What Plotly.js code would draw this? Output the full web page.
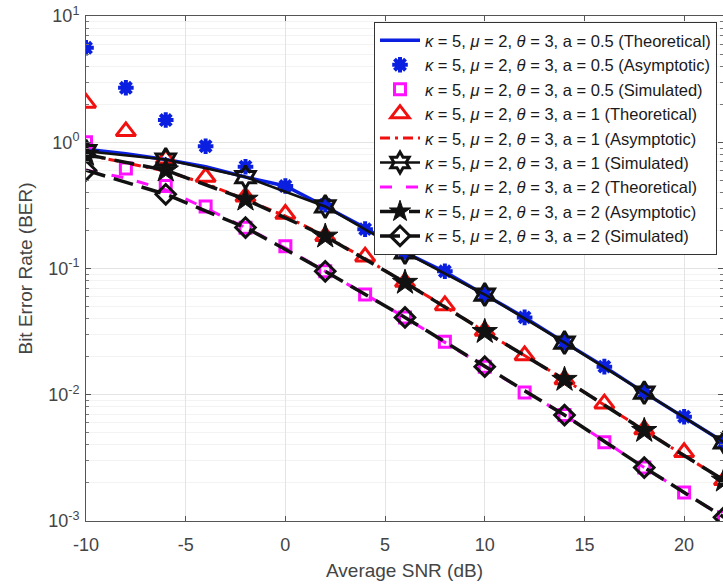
<!DOCTYPE html>
<html>
<head>
<meta charset="utf-8">
<script src="https://cdn.plot.ly/plotly-3.0.1.min.js"></script>
<style>html,body{margin:0;padding:0;background:#fff;}#chart{width:723px;height:586px;}</style>
</head>
<body>
<div id="chart"></div>
<script>
// SNR grids (dB)
const snrFine = [-10,-8,-6,-4,-2,0,2,4,6,8,10,12,14,16,18,20,22];
const snrCoarse = [-10,-6,-2,2,6,10,14,18,22];

// axis ticks
const xTickVals = [-10,-5,0,5,10,15,20];
const xTickText = ['-10','-5','0','5','10','15','20'];
const yTickVals = [0.001,0.01,0.1,1,10];
const yTickText = ['10<sup>-3</sup>','10<sup>-2</sup>','10<sup>-1</sup>','10<sup>0</sup>','10<sup>1</sup>'];

// a = 0.5
const a05Theoretical = [0.88,0.81,0.73,0.64,0.53,0.45,0.31,0.21,0.134,0.094,0.062,0.041,0.026,0.0167,0.0104,0.0066,0.0042];
const a05Asymptotic  = [5.6,2.7,1.5,0.93,0.64,0.45,0.32,0.205,0.135,0.095,0.062,0.041,0.026,0.0167,0.0105,0.0067,0.0042];
const a05Simulated   = [1.0,0.62,0.45,0.31,0.21,0.15,0.095,0.0623,0.041,0.0263,0.0167,0.0104,0.0069,0.0042,0.00265,0.00168,0.00107];
// a = 1
const a1Theoretical  = [2.05,1.22,0.74,0.53,0.37,0.27,0.18,0.124,0.078,0.051,0.032,0.0205,0.0132,0.0085,0.0053,0.0035,0.0021];
const a1Asymptotic   = [0.80,0.69,0.59,0.47,0.353,0.26,0.18,0.12,0.0775,0.05,0.0316,0.0205,0.0132,0.0083,0.0052,0.0033,0.0021];
const a1Simulated    = [0.85,0.73,0.53,0.31,0.134,0.0622,0.0259,0.0104,0.0042];
// a = 2
const a2Theoretical  = [0.60,0.52,0.42,0.30,0.211,0.145,0.095,0.0625,0.041,0.026,0.0167,0.0107,0.0069,0.0043,0.00265,0.00168,0.00107];
const a2Asymptotic   = [0.80,0.60,0.353,0.18,0.0775,0.0316,0.0132,0.0052,0.0021];
const a2Simulated    = [0.60,0.387,0.211,0.095,0.041,0.0167,0.0069,0.00265,0.00107];

const seriesNames = [
  'a = 0.5 (Theoretical)','a = 0.5 (Asymptotic)','a = 0.5 (Simulated)',
  'a = 1 (Theoretical)','a = 1 (Asymptotic)','a = 1 (Simulated)',
  'a = 2 (Theoretical)','a = 2 (Asymptotic)','a = 2 (Simulated)'
];
const prefix = '<i>κ</i> = 5, <i>μ</i> = 2, <i>θ</i> = 3, ';
const nm = i => prefix + seriesNames[i];

const traces = [
  {x:snrFine, y:a05Theoretical, name:nm(0), mode:'lines',
   line:{color:'#0a1fe0', width:3.5}},
  {x:snrFine, y:a05Asymptotic, name:nm(1), mode:'markers',
   marker:{symbol:'asterisk-open', size:13, color:'#0a1fe0', line:{color:'#0a1fe0', width:4}}},
  {x:snrFine, y:a05Simulated, name:nm(2), mode:'markers',
   marker:{symbol:'square-open', size:11, color:'#ff10ff', line:{color:'#ff10ff', width:3}}},
  {x:snrFine, y:a1Theoretical, name:nm(3), mode:'markers',
   marker:{symbol:'triangle-up-open', size:17, color:'#f01010', line:{color:'#f01010', width:3}}},
  {x:snrFine, y:a1Asymptotic, name:nm(4), mode:'lines',
   line:{color:'#f01010', width:3, dash:'10px,5px,3px,5px'}},
  {x:snrCoarse, y:a1Simulated, name:nm(5), mode:'lines+markers',
   line:{color:'#111', width:2.5},
   marker:{symbol:'hexagram-open', size:17, color:'#111', line:{color:'#111', width:3}}},
  {x:snrFine, y:a2Theoretical, name:nm(6), mode:'lines',
   line:{color:'#ff10ff', width:3, dash:'12px,14px'}},
  {x:snrCoarse, y:a2Asymptotic, name:nm(7), mode:'lines+markers',
   line:{color:'#111', width:3.5, dash:'20px,9px'},
   marker:{symbol:'star', size:19, color:'#111', line:{color:'#111', width:1}}},
  {x:snrCoarse, y:a2Simulated, name:nm(8), mode:'lines+markers',
   line:{color:'#111', width:3.5, dash:'20px,9px'},
   marker:{symbol:'diamond-open', size:15, color:'#111', line:{color:'#111', width:3}}}
];

const layout = {
  width:723, height:586,
  margin:{l:86, r:0, t:16, b:65},
  paper_bgcolor:'#fff', plot_bgcolor:'#fff',
  font:{family:'Liberation Sans, Arial, sans-serif', color:'#444'},
  showlegend:true,
  xaxis:{
    range:[-10,21.95], tickvals:xTickVals, ticktext:xTickText,
    ticks:'inside', ticklen:5, tickcolor:'#555', ticklabelstandoff:7,
    showline:true, linecolor:'#555', linewidth:1, mirror:'ticks',
    showgrid:true, gridcolor:'#e4e4e4', zeroline:false,
    tickfont:{size:18, color:'#444'},
    title:{text:'Average SNR (dB)', font:{size:19, color:'#444'}, standoff:10}
  },
  yaxis:{
    type:'log', range:[-3,1],
    tickvals:yTickVals, ticktext:yTickText,
    ticks:'inside', ticklen:5, tickcolor:'#555', ticklabelstandoff:2,
    showline:true, linecolor:'#555', linewidth:1, mirror:'ticks',
    showgrid:true, gridcolor:'#e4e4e4', zeroline:false,
    minor:{dtick:'D1', ticks:'inside', ticklen:3, tickcolor:'#777', showgrid:true, gridcolor:'#f3f3f3'},
    tickfont:{size:18, color:'#444'},
    title:{text:'Bit Error Rate (BER)', font:{size:19, color:'#444'}, standoff:10}
  },
  legend:{
    x:0.9906, xanchor:'right', y:0.988, yanchor:'top',
    bgcolor:'#fff', bordercolor:'#333', borderwidth:1,
    font:{size:16.5, color:'#1a1a1a', family:'Liberation Sans, Arial, sans-serif'},
    itemwidth:40, tracegroupgap:0
  }
};

Plotly.newPlot('chart', traces, layout, {displayModeBar:false, staticPlot:true});
</script>
</body>
</html>
